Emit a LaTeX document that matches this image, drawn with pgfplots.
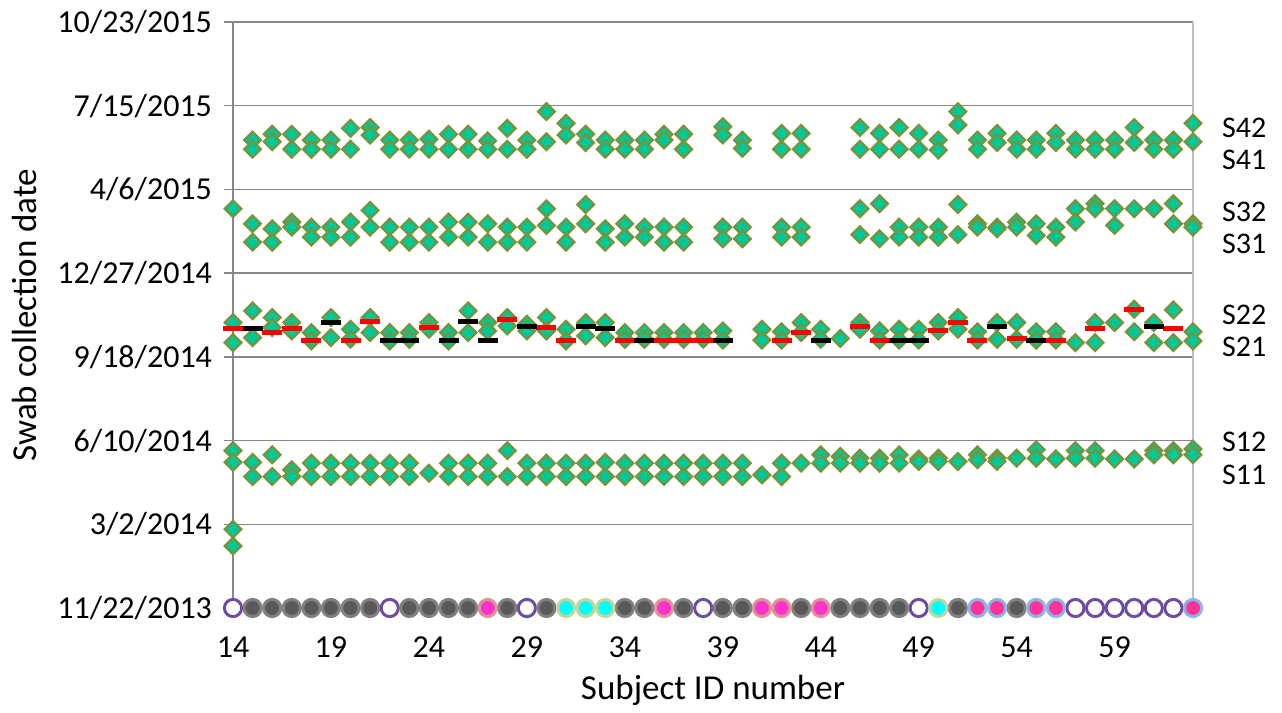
\documentclass[border=0pt]{standalone}
\usepackage{pgfplots}
\pgfplotsset{compat=1.18}
\usepackage{pgfplotstable}
\usepackage{fontspec}
\setmainfont{Carlito}
\definecolor{dfill}{HTML}{00C896}
\definecolor{dedge}{HTML}{77933C}
\definecolor{gridgray}{HTML}{878787}
\definecolor{bordergray}{HTML}{BFBFBF}
\definecolor{darkc}{HTML}{595959}
\definecolor{darke}{HTML}{808080}
\definecolor{purp}{HTML}{6E4C9E}
\definecolor{cyanc}{HTML}{00FFFF}
\definecolor{cyane}{HTML}{C3D69B}
\definecolor{pinka}{HTML}{FF33CC}
\definecolor{pinkae}{HTML}{D99694}
\definecolor{pinkb}{HTML}{FF3399}
\definecolor{pinkbe}{HTML}{8EB4E3}

\pgfplotstableread{
x y
15 559
15 548
16 566
16 557
17 566
17 548
18 559
18 548
19 559
19 548
20 573
20 548
21 574
21 565
22 559
22 548
23 559
23 548
24 560
24 548
25 566
25 548
26 566
26 548
27 558
27 548
28 573
28 548
29 559
29 548
30 593
30 557
31 579
31 565
32 566
32 556
33 559
33 548
34 559
34 548
35 559
35 548
36 566
36 559
37 566
37 548
39 575
39 565
40 559
40 549
42 567
42 548
43 567
43 548
46 574
46 548
47 567
47 548
48 574
48 548
49 567
49 548
50 559
50 547
51 593
51 577
52 559
52 548
53 567
53 556
54 559
54 548
55 559
55 548
56 567
56 556
57 559
57 548
58 559
58 548
59 559
59 548
60 574
60 556
61 559
61 548
62 559
62 548
63 579
63 557
}\sfour

\pgfplotstableread{
x y
14 477
15 459
15 437
16 453
16 437
17 461
17 455
18 455
18 443
19 455
19 443
20 461
20 443
21 475
21 455
22 455
22 437
23 455
23 437
24 455
24 437
25 461
25 443
26 461
26 443
27 459
27 437
28 455
28 437
29 455
29 437
30 477
30 457
31 455
31 437
32 482
32 459
33 453
33 437
34 459
34 443
35 455
35 443
36 455
36 437
37 455
37 437
39 455
39 441
40 455
40 441
42 455
42 443
43 455
43 443
46 477
46 446
47 483
47 441
48 455
48 443
49 455
49 443
50 455
50 443
51 482
51 446
52 459
52 455
53 455
53 453
54 461
54 455
55 459
55 445
56 455
56 443
57 477
57 461
58 483
58 477
59 477
59 457
60 477
61 477
62 483
62 459
63 459
63 455
}\sthree

\pgfplotstableread{
x y
14 341
14 317
15 355
15 323
16 347
16 335
17 341
17 331
18 329
18 319
19 347
19 323
20 333
20 321
21 347
21 329
22 329
22 319
23 329
23 321
24 341
24 333
25 329
25 319
26 355
26 329
27 341
27 331
28 347
28 337
29 339
29 331
30 347
30 331
31 333
31 319
32 341
32 325
33 341
33 323
34 329
34 321
35 329
35 321
36 329
36 321
37 329
37 321
38 329
38 321
39 331
39 320
41 333
41 320
42 330
42 320
43 341
43 329
44 333
44 321
45 322
46 341
46 333
47 331
47 320
48 333
48 320
49 333
49 320
50 341
50 331
51 347
51 333
52 330
52 320
53 341
53 321
54 341
54 321
55 330
55 320
56 330
56 320
57 317
58 341
58 317
59 341
60 357
60 330
61 341
61 317
62 356
62 317
63 330
63 319
}\stwo

\pgfplotstableread{
x y
14 94
14 74
14 188
14 174
15 174
15 157
16 183
16 157
17 165
17 157
18 173
18 157
19 173
19 157
20 173
20 157
21 173
21 157
22 173
22 157
23 173
23 157
24 161
25 173
25 157
26 173
26 157
27 173
27 157
28 188
28 157
29 173
29 157
30 173
30 157
31 173
31 157
32 173
32 157
33 174
33 157
34 173
34 157
35 173
35 157
36 173
36 157
37 173
37 157
38 173
38 157
39 173
39 157
40 173
40 157
41 159
42 173
42 157
43 173
44 183
44 173
45 181
45 173
46 179
46 173
47 179
47 173
48 183
48 173
49 178
49 175
50 179
50 175
51 175
52 183
52 177
53 179
53 175
54 179
55 189
55 179
56 178
57 188
57 179
58 188
58 179
59 178
60 178
61 188
61 183
62 188
62 183
63 190
63 183
}\sone

\begin{document}
\begin{tikzpicture}
\begin{axis}[
  at={(0,0)}, anchor=south west,
  scale only axis, width=480pt, height=293pt,
  xmin=14, xmax=63, ymin=0, ymax=700,
  xtick={14,19,...,59},
  ytick={0,100,...,700},
  yticklabels={11/22/2013,3/2/2014,6/10/2014,9/18/2014,12/27/2014,4/6/2015,7/15/2015,10/23/2015},
  axis lines*=left,
  axis line style={draw=gridgray, line width=0.75pt},
  ymajorgrids,
  grid style={draw=gridgray, line width=0.75pt},
  tick align=outside,
  ytick style={draw=gridgray, line width=0.75pt},
  major tick length=4.5pt,
  xtick style={draw=none},
  tick label style={font=\fontsize{16}{19}\selectfont},
  /pgf/number format/assume math mode=true,
  xticklabel style={yshift=-6.5pt},
  yticklabel style={xshift=-2.5pt},
  xlabel={Subject ID number},
  ylabel={Swab collection date},
  every axis x label/.style={at={(axis description cs:0.5,-0.14)}, anchor=center, font=\fontsize{17.5}{21}\selectfont},
  every axis y label/.style={at={(axis description cs:-0.2167,0.5)}, anchor=center, rotate=90, font=\fontsize{17.5}{21}\selectfont},
  clip=false,
]
% bottom circles
\addplot[only marks, mark=*, mark size=4.3pt, mark options={fill=white, draw=purp, line width=1.5pt}]
  coordinates {(14,0) (22,0) (29,0) (38,0) (49,0) (57,0) (58,0) (59,0) (60,0) (61,0) (62,0)};
\addplot[only marks, mark=*, mark size=4.3pt, mark options={fill=darkc, draw=darke, line width=1.5pt}]
  coordinates {(15,0) (16,0) (17,0) (18,0) (19,0) (20,0) (21,0) (23,0) (24,0) (25,0) (26,0) (28,0) (30,0) (34,0) (35,0) (37,0) (39,0) (40,0) (43,0) (45,0) (46,0) (47,0) (48,0) (51,0) (54,0)};
\addplot[only marks, mark=*, mark size=4.3pt, mark options={fill=cyanc, draw=cyane, line width=1.5pt}]
  coordinates {(31,0) (32,0) (33,0) (50,0)};
\addplot[only marks, mark=*, mark size=4.3pt, mark options={fill=pinka, draw=pinkae, line width=1.5pt}]
  coordinates {(27,0) (36,0) (41,0) (42,0) (44,0)};
\addplot[only marks, mark=*, mark size=4.3pt, mark options={fill=pinkb, draw=pinkbe, line width=1.5pt}]
  coordinates {(52,0) (53,0) (55,0) (56,0) (63,0)};
% diamonds
\pgfplotsset{dia/.style={only marks, mark=square*, mark size=2.95pt, mark options={rotate=45, fill=dfill, draw=dedge, line width=1.1pt}}}
\addplot[dia] table[x=x,y=y] {\sone};
\addplot[dia] table[x=x,y=y] {\stwo};
\addplot[dia] table[x=x,y=y] {\sthree};
\addplot[dia] table[x=x,y=y] {\sfour};
% dashes
\addplot[only marks, mark=-, mark size=5pt, mark options={draw=red, line width=2.5pt}]
  coordinates {(14,334) (16,329) (17,334) (18,320) (20,320) (21,342) (24,335) (28,345) (30,335) (31,320) (34,320) (36,320) (37,320) (38,320) (42,320) (43,329) (46,336) (47,320) (50,331) (51,341) (52,320) (54,322) (56,320) (58,334) (60,356) (62,334)};
\addplot[only marks, mark=-, mark size=5pt, mark options={draw=black, line width=2.5pt}]
  coordinates {(15,334) (19,341) (22,320) (23,320) (25,320) (26,342) (27,320) (29,336) (32,336) (33,334) (35,320) (39,320) (44,320) (48,320) (49,320) (53,336) (55,320) (61,336)};
\draw[bordergray, line width=0.75pt] (rel axis cs:1,0) -- (rel axis cs:1,1);
\begin{scope}[every node/.style={anchor=west, xshift=11pt, font=\fontsize{15}{18}\selectfont}]
\node at (axis cs:63,573) {S42};
\node at (axis cs:63,535) {S41};
\node at (axis cs:63,473) {S32};
\node at (axis cs:63,435) {S31};
\node at (axis cs:63,350) {S22};
\node at (axis cs:63,312) {S21};
\node at (axis cs:63,198) {S12};
\node at (axis cs:63,159) {S11};
\end{scope}
\end{axis}
\pgfresetboundingbox
\path[use as bounding box] (-116.5pt,-52.5pt) rectangle (524.5pt,304pt);
\end{tikzpicture}
\end{document}
